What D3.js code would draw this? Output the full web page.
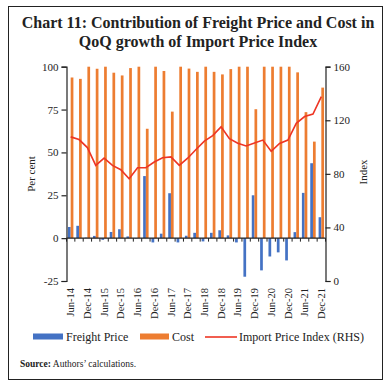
<!DOCTYPE html>
<html>
<head>
<meta charset="utf-8">
<script src="https://cdn.jsdelivr.net/npm/d3@7"></script>
<style>
  body { margin: 0; background: #fff; }
  text { font-family: "Liberation Serif", "DejaVu Serif", serif; fill: #222; }
</style>
</head>
<body>
<script>
var quarters = ['Jun-14','Sep-14','Dec-14','Mar-15','Jun-15','Sep-15','Dec-15','Mar-16','Jun-16','Sep-16',
    'Dec-16','Mar-17','Jun-17','Sep-17','Dec-17','Mar-18','Jun-18','Sep-18','Dec-18','Mar-19',
    'Jun-19','Sep-19','Dec-19','Mar-20','Jun-20','Sep-20','Dec-20','Mar-21','Jun-21','Sep-21','Dec-21']

var freight = [6.5, 7.2, 0.3, 1.3, -1.0, 3.6, 5.2, 1.0, -0.3, 36.2,
    -2.5, 2.6, 26.2, -2.5, 1.4, 3.1, -1.9, 3.1, 4.6, 1.6,
    -2.5, -22.5, 25.0, -18.8, -10.7, -8.3, -13.0, 3.5, 26.4, 43.7, 12.2]

var cost = [93.7, 92.9, 100, 98.8, 100, 96.5, 94.9, 99.2, 100, 63.8,
    100, 97.5, 73.8, 100, 98.9, 97.0, 100, 97.0, 95.5, 98.6,
    100, 100, 75.2, 100, 100, 100, 100, 96.7, 73.5, 56.3, 87.8]

var importIndex = [107.6, 105.6, 99.6, 86.3, 91.8, 86.3, 83.1, 76.3, 84.6, 84.6,
    88.8, 92.0, 92.7, 86.3, 91.7, 98.2, 104.4, 108.6, 115.1, 106.2,
    102.8, 100.8, 103.0, 105.2, 96.8, 102.7, 105.2, 117.7, 122.8, 124.7, 137.6]

var leftTicks = [-25, 0, 25, 50, 75, 100]
var rightTicks = [0, 40, 80, 120, 160]

var blue = '#4472c4', orange = '#ed7d31', red = '#ee3524'

var svg = d3.select('body').append('svg')
    .attr('width', 390)
    .attr('height', 386)

// frame
svg.append('rect')
    .attr('x', 8.5).attr('y', 6.5)
    .attr('width', 374).attr('height', 373)
    .attr('fill', 'none')
    .attr('stroke', '#222')
    .attr('stroke-width', 1)

// title
var title = svg.append('text')
    .attr('text-anchor', 'middle')
    .style('font-weight', 'bold')
    .style('font-size', '16px')
title.append('tspan').attr('x', 198).attr('y', 28).text('Chart 11: Contribution of Freight Price and Cost in')
title.append('tspan').attr('x', 198).attr('y', 47).text('QoQ growth of Import Price Index')

var x = d3.scaleBand()
    .domain(quarters)
    .range([66.5, 325.5])
    .paddingInner(0.35)
    .paddingOuter(0.175)

var xs = d3.scaleBand()
    .domain(['freight', 'cost'])
    .range([0, x.bandwidth()])

var yL = d3.scaleLinear().domain([-25, 100]).range([281, 66.7])
var yR = d3.scaleLinear().domain([0, 160]).range([281, 66.7])

// bars
var rows = quarters.map(function (q, i) {
    return {q: q, freight: freight[i], cost: cost[i], idx: importIndex[i]}
})

svg.append('g').selectAll('rect')
    .data(rows)
    .enter()
    .append('rect')
    .attr('x', function (d) { return x(d.q) + xs('freight') })
    .attr('width', xs.bandwidth())
    .attr('y', function (d) { return yL(Math.max(0, d.freight)) })
    .attr('height', function (d) { return Math.abs(yL(d.freight) - yL(0)) })
    .attr('fill', blue)

svg.append('g').selectAll('rect')
    .data(rows)
    .enter()
    .append('rect')
    .attr('x', function (d) { return x(d.q) + xs('cost') })
    .attr('width', xs.bandwidth())
    .attr('y', function (d) { return yL(Math.max(0, d.cost)) })
    .attr('height', function (d) { return Math.abs(yL(d.cost) - yL(0)) })
    .attr('fill', orange)

// line
var line = d3.line()
    .x(function (d) { return x(d.q) + x.bandwidth() / 2 })
    .y(function (d) { return yR(d.idx) })

svg.append('path')
    .datum(rows)
    .attr('d', line)
    .attr('fill', 'none')
    .attr('stroke', red)
    .attr('stroke-width', 1.6)

// left axis
var plain = function (d) { return String(d) }
var gL = svg.append('g')
    .attr('transform', 'translate(' + x.range()[0] + ',0)')
    .call(d3.axisLeft(yL).tickValues(leftTicks).tickFormat(plain).tickSize(5).tickPadding(3))
gL.select('.domain').attr('stroke', '#222').attr('stroke-width', 1.2)
gL.selectAll('.tick line').attr('stroke', '#222').attr('stroke-width', 1.2)
gL.selectAll('.tick text').style('font-size', '11px').attr('fill', '#222')
    .style('font-family', '"Liberation Serif", serif')

// right axis
var gR = svg.append('g')
    .attr('transform', 'translate(' + x.range()[1] + ',0)')
    .call(d3.axisRight(yR).tickValues(rightTicks).tickFormat(plain).tickSize(5).tickPadding(3))
gR.select('.domain').attr('stroke', '#222').attr('stroke-width', 1.2)
gR.selectAll('.tick line').attr('stroke', '#222').attr('stroke-width', 1.2)
gR.selectAll('.tick text').style('font-size', '11px').attr('fill', '#222')
    .style('font-family', '"Liberation Serif", serif')

// x axis at zero
var y0 = yL(0)
svg.append('line')
    .attr('x1', x.range()[0]).attr('x2', x.range()[1])
    .attr('y1', y0).attr('y2', y0)
    .attr('stroke', '#222').attr('stroke-width', 1.2)

var step = x.step()
var bounds = d3.range(quarters.length + 1).map(function (i) { return x.range()[0] + i * step })
svg.append('g').selectAll('line')
    .data(bounds)
    .enter()
    .append('line')
    .attr('x1', function (d) { return d }).attr('x2', function (d) { return d })
    .attr('y1', y0).attr('y2', y0 + 3.5)
    .attr('stroke', '#222').attr('stroke-width', 1)

svg.append('g').selectAll('text')
    .data(quarters.filter(function (q, i) { return i % 2 === 0 }))
    .enter()
    .append('text')
    .attr('transform', function (d) {
        return 'translate(' + (x(d) + x.bandwidth() / 2) + ',288) rotate(-90)'
    })
    .attr('text-anchor', 'end')
    .attr('dy', '0.35em')
    .style('font-size', '10.5px')
    .text(function (d) { return d })

// axis titles
svg.append('text')
    .attr('transform', 'translate(31,174) rotate(-90)')
    .attr('text-anchor', 'middle')
    .attr('dy', '0.35em')
    .style('font-size', '11px')
    .text('Per cent')

svg.append('text')
    .attr('transform', 'translate(363,172) rotate(-90)')
    .attr('text-anchor', 'middle')
    .attr('dy', '0.35em')
    .style('font-size', '11px')
    .text('Index')

// legend
var lg = svg.append('g').attr('transform', 'translate(0,337)')
lg.append('rect').attr('x', 33).attr('y', -3.5).attr('width', 30).attr('height', 6).attr('fill', blue)
lg.append('text').attr('x', 66).attr('dy', '0.35em').style('font-size', '12px').text('Freight Price')
lg.append('rect').attr('x', 140).attr('y', -3.5).attr('width', 29).attr('height', 6).attr('fill', orange)
lg.append('text').attr('x', 172).attr('dy', '0.35em').style('font-size', '12px').text('Cost')
lg.append('line').attr('x1', 205).attr('x2', 237).attr('y1', 0).attr('y2', 0)
    .attr('stroke', red).attr('stroke-width', 1.6)
lg.append('text').attr('x', 239).attr('dy', '0.35em').style('font-size', '12px').text('Import Price Index (RHS)')

// source
var src = svg.append('text').attr('x', 20).attr('y', 367).style('font-size', '9.5px')
src.append('tspan').style('font-weight', 'bold').text('Source:')
src.append('tspan').text(' Authors\u2019 calculations.')
</script>
</body>
</html>
